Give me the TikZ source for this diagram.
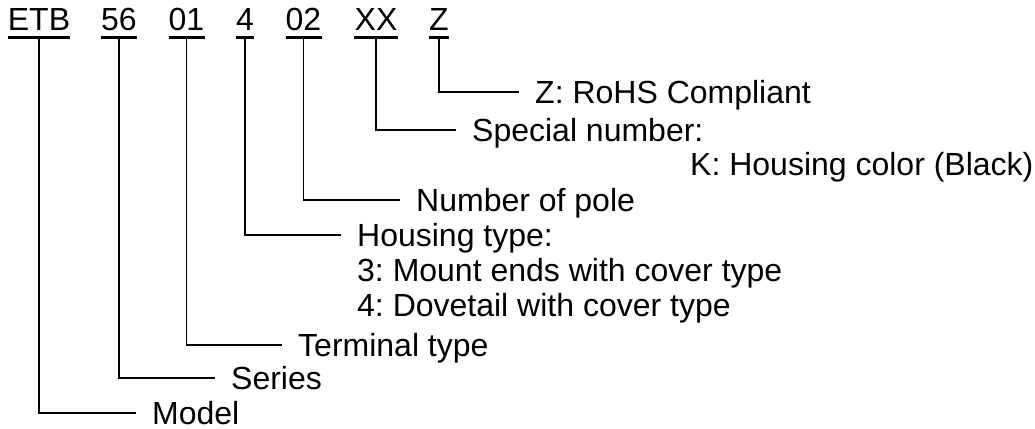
\documentclass[tikz,border=0pt]{standalone}
\usepackage{fontspec}
\setmainfont{Liberation Sans}
\frenchspacing
\begin{document}
\begin{tikzpicture}[x=1pt,y=-1pt,
  code/.style={font=\fontsize{32}{32}\selectfont, inner sep=0pt, text depth=6.5pt, anchor=base},
  lab/.style={font=\fontsize{32}{32}\selectfont, inner ysep=0pt, inner xsep=16pt, text height=22.9pt, text depth=0pt, anchor=west},
  conn/.style={line width=1.3pt},
  uline/.style={line width=3pt}]
\useasboundingbox (0,0) rectangle (1035,428);
% code characters
\node[code] (cETB) at (39,31) {ETB};
\node[code] (c56) at (119,31) {56};
\node[code] (c01) at (186.5,31) {01};
\node[code] (c4) at (245,31) {4};
\node[code] (c02) at (303.5,31) {02};
\node[code] (cXX) at (376,31) {XX};
\node[code] (cZ) at (439,31) {Z};
\foreach \n in {cETB,c56,c01,c4,c02,cXX,cZ}
  \draw[uline] (\n.south west) -- (\n.south east);
% labels
\node[lab] (lZ) at (519,92) {Z: RoHS Compliant};
\node[lab] (lXX) at (456,130) {Special number:};
\node[lab] (lK) at (674,164) {K: Housing color (Black)};
\node[lab] (l02) at (400,200) {Number of pole};
\node[lab] (l4) at (341,235) {Housing type:};
\node[lab] (l43) at (341,270) {3: Mount ends with cover type};
\node[lab] (l44) at (341,305) {4: Dovetail with cover type};
\node[lab] (l01) at (282,345) {Terminal type};
\node[lab] (l56) at (215,378) {Series};
\node[lab] (lETB) at (136,413) {Model};
% connectors
\draw[conn] (cZ.south) |- (lZ.west);
\draw[conn] (cXX.south) |- (lXX.west);
\draw[conn] (c02.south) |- (l02.west);
\draw[conn] (c4.south) |- (l4.west);
\draw[conn] (c01.south) |- (l01.west);
\draw[conn] (c56.south) |- (l56.west);
\draw[conn] (cETB.south) |- (lETB.west);
\end{tikzpicture}
\end{document}
